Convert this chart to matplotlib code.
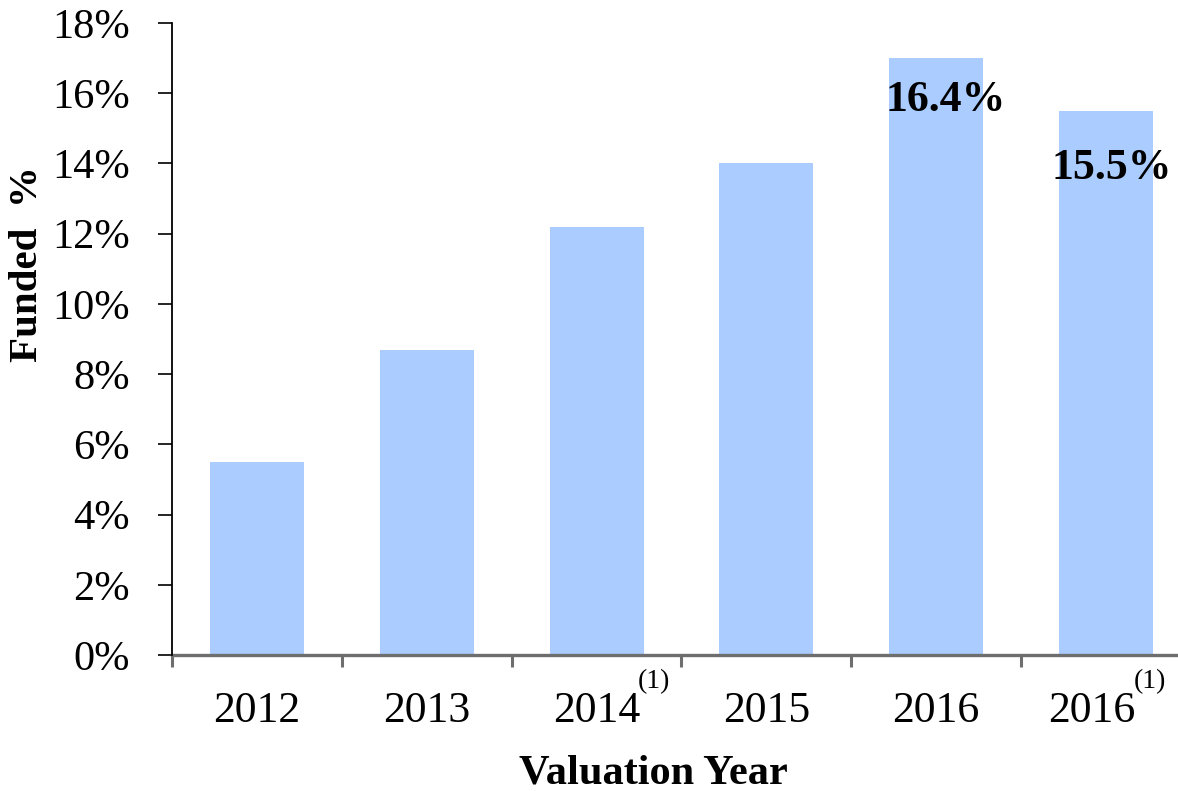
import matplotlib
matplotlib.use('Agg')
import matplotlib.pyplot as plt

# ---- data ----
categories = ['2012', '2013', '2014', '2015', '2016', '2016']
footnotes = ['', '', '(1)', '', '', '(1)']
funded = [5.5, 8.7, 12.2, 14.0, 17.0, 15.5]
bar_labels = ['', '', '', '', '16.4%', '15.5%']
yticks = [0, 2, 4, 6, 8, 10, 12, 14, 16, 18]

# ---- style ----
plt.rcParams['font.family'] = ['Liberation Serif', 'DejaVu Serif']
W, H = 1178, 791
PX = 72 / 100.0  # points per pixel at dpi 100
bar_color = '#AACCFF'
grey = '#6e6e6e'
label_dx_px = [0, 0, 0, 0, 0, -14]
value_label_offsets_px = [(0, 0), (0, 0), (0, 0), (0, 0), (9, -53), (6, -68)]

fig = plt.figure(figsize=(W / 100, H / 100), dpi=100)
ax = fig.add_axes([172 / W, 1 - 655 / H, (1191 - 172) / W, (655 - 23) / H])

x = list(range(len(categories)))
ax.bar(x, funded, width=0.553, color=bar_color, zorder=2)
ax.set_xlim(-0.5, len(categories) - 0.5)
ax.set_ylim(0, 18)

ax.set_yticks(yticks)
ax.set_yticklabels([f'{v}%' for v in yticks], fontsize=30.5)
ax.tick_params(axis='y', length=14 * PX, width=1.2, pad=20, color='black', direction='out')

for s in ['top', 'right']:
    ax.spines[s].set_visible(False)
ax.spines['left'].set_linewidth(1.3)
ax.spines['left'].set_color('black')
ax.spines['left'].set_zorder(5)
ax.spines['bottom'].set_color(grey)
ax.spines['bottom'].set_linewidth(2.4)

ax.set_xticks(x)
ax.set_xticklabels([])
ax.tick_params(axis='x', which='major', length=0)
ax.set_xticks([i - 0.5 for i in range(len(categories) + 1)], minor=True)
ax.tick_params(axis='x', which='minor', length=12 * PX, width=2.2, color=grey, direction='out')

# category labels with superscript footnotes
for i, (cat, fn) in enumerate(zip(categories, footnotes)):
    t = ax.annotate(cat, xy=(i, 0), xycoords=('data', 'axes fraction'),
                    xytext=(label_dx_px[i] * PX, -67 * PX), textcoords='offset points',
                    ha='center', va='baseline', fontsize=31.5, annotation_clip=False)
    if fn:
        ax.annotate(fn, xy=(1, 1), xycoords=t, xytext=(-2 * PX, 22 * PX),
                    textcoords='offset points', ha='left', va='top', fontsize=20,
                    annotation_clip=False)

# value labels
for i, lbl in enumerate(bar_labels):
    if lbl:
        dx, dy = value_label_offsets_px[i]
        ax.annotate(lbl, xy=(i, funded[i]), xytext=(dx * PX, dy * PX),
                    textcoords='offset points', ha='center', va='baseline',
                    fontsize=31.5, fontweight='bold', zorder=6)

fig.text(28 / W, 1 - 264 / H, 'Funded  %', rotation=90, fontsize=29.5,
         fontweight='bold', ha='center', va='center')
fig.text(653 / W, 1 - 783 / H, 'Valuation Year', fontsize=30.5,
         fontweight='bold', ha='center', va='baseline')

fig.savefig('out.png', dpi=100)
